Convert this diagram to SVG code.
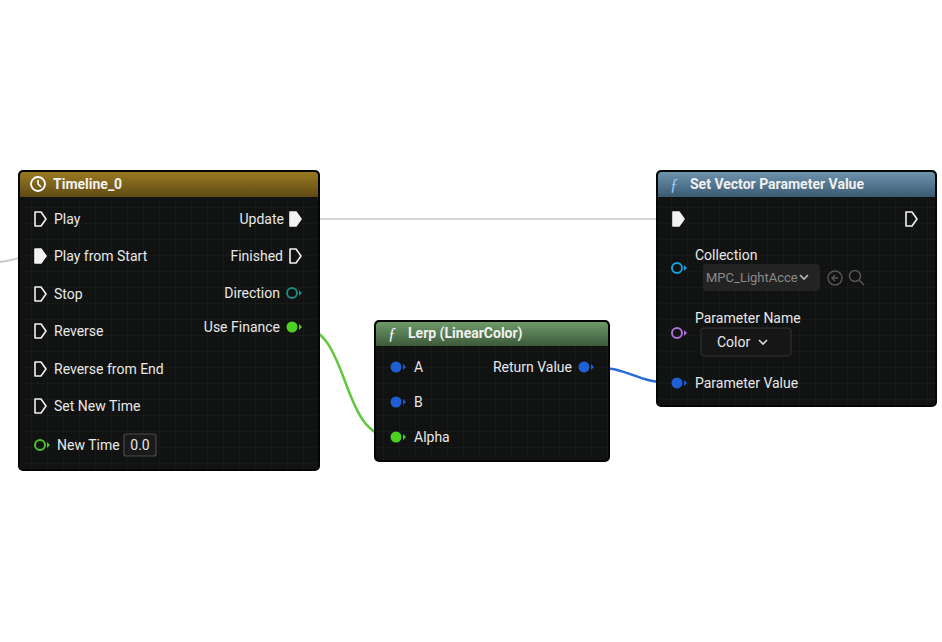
<svg xmlns="http://www.w3.org/2000/svg" width="942" height="642" viewBox="0 0 942 642">
<defs>
<linearGradient id="gT" x1="0" y1="0" x2="0" y2="1"><stop offset="0" stop-color="#9a7a22"/><stop offset="1" stop-color="#5e4a14"/></linearGradient>
<linearGradient id="gL" x1="0" y1="0" x2="0" y2="1"><stop offset="0" stop-color="#6e9a6a"/><stop offset="1" stop-color="#3d5a3a"/></linearGradient>
<linearGradient id="gS" x1="0" y1="0" x2="0" y2="1"><stop offset="0" stop-color="#6e93ad"/><stop offset="1" stop-color="#3b5a72"/></linearGradient>
<pattern id="grid" width="16" height="16" patternUnits="userSpaceOnUse"><rect width="16" height="16" fill="#111312"/><path d="M16 0V16H0" fill="none" stroke="#1c1e1d" stroke-width="1"/></pattern>
</defs>
<style>
.body{fill:url(#grid);stroke:#050505;stroke-width:2}
.t{font-family:"Roboto","Liberation Sans",sans-serif;font-size:14px;fill:#e8e8e8}
.h{font-family:"Roboto","Liberation Sans",sans-serif;font-size:14px;font-weight:bold;fill:#f0f0f0}
.ex{fill:none;stroke:#f2f2f2;stroke-width:1.6;stroke-linejoin:round}
.exf{fill:#f2f2f2;stroke:#f2f2f2;stroke-width:1.6;stroke-linejoin:round}
.box{fill:#1a1a1a;stroke:#4a4a4a;stroke-width:1.2}
</style>
<rect width="942" height="642" fill="#fff"/>
<g id="connectors" fill="none">
<path d="M300 219 H676" stroke="#d8d8d8" stroke-width="2"/>
<path d="M0 262 C15 260 20 257 33 256" stroke="#c8c8c8" stroke-width="2"/>
<path d="M300 327 C350 327 340 437 392 437" stroke="#5ec83a" stroke-width="2.5"/>
<path d="M592 367 C630 367 635 383 674 383" stroke="#2a6ad8" stroke-width="2.5"/>
</g>
<g id="timeline">
<rect class="body" x="19" y="171" width="300" height="299" rx="4"/>
<path d="M20 197V176a4 4 0 0 1 4-4h290a4 4 0 0 1 4 4v21z" fill="url(#gT)"/>
<circle cx="38" cy="184" r="7" fill="none" stroke="#fff" stroke-width="1.8"/><path d="M38 180v4l3 3" stroke="#fff" stroke-width="1.6" fill="none"/>
<text class="h" x="53" y="189">Timeline_0</text>
<g class="t">
<path class="ex" d="M35 212h6l5 7-5 7h-6z"/><text class="t" x="54" y="224">Play</text>
<path class="exf" d="M35 249h6l5 7-5 7h-6z"/><text class="t" x="54" y="261">Play from Start</text>
<path class="ex" d="M35 287h6l5 7-5 7h-6z"/><text class="t" x="54" y="299">Stop</text>
<path class="ex" d="M35 324h6l5 7-5 7h-6z"/><text class="t" x="54" y="336">Reverse</text>
<path class="ex" d="M35 362h6l5 7-5 7h-6z"/><text class="t" x="54" y="374">Reverse from End</text>
<path class="ex" d="M35 399h6l5 7-5 7h-6z"/><text class="t" x="54" y="411">Set New Time</text>
<circle cx="40" cy="445" r="5" fill="none" stroke="#4cc22e" stroke-width="2"/><path d="M47 442l3 3-3 3z" fill="#4cc22e"/>
<text class="t" x="57" y="450">New Time</text>
<rect class="box" x="124" y="434" width="32" height="22" rx="2" stroke="#bbb"/><text class="t" x="140" y="450" text-anchor="middle">0.0</text>
<text class="t" x="284" y="224" text-anchor="end">Update</text><path class="exf" d="M290 212h6l5 7-5 7h-6z"/>
<text class="t" x="283" y="261" text-anchor="end">Finished</text><path class="ex" d="M290 249h6l5 7-5 7h-6z"/>
<text class="t" x="280" y="298" text-anchor="end">Direction</text>
<circle cx="292" cy="293" r="5" fill="none" stroke="#1f8a80" stroke-width="2"/><path d="M299 290l3 3-3 3z" fill="#1f8a80"/>
<text class="t" x="280" y="332" text-anchor="end">Use Finance</text>
<circle cx="292" cy="327" r="5.5" fill="#4cd21e"/><path d="M299 324l3 3-3 3z" fill="#4cd21e"/>
</g>
</g>
<g id="lerp">
<rect class="body" x="375" y="321" width="234" height="140" rx="4"/>
<path d="M376 346V326a4 4 0 0 1 4-4h224a4 4 0 0 1 4 4v20z" fill="url(#gL)"/>
<text x="388" y="339" font-family="Liberation Serif,serif" font-style="italic" font-size="16" fill="#fff">ƒ</text>
<text class="h" x="408" y="338">Lerp (LinearColor)</text>
<circle cx="396" cy="367" r="5.5" fill="#1f5fd6"/><path d="M403 364l3 3-3 3z" fill="#1f5fd6"/><text class="t" x="414" y="372">A</text>
<circle cx="396" cy="402" r="5.5" fill="#1f5fd6"/><path d="M403 399l3 3-3 3z" fill="#1f5fd6"/><text class="t" x="414" y="407">B</text>
<circle cx="396" cy="437" r="5.5" fill="#4cd21e"/><path d="M403 434l3 3-3 3z" fill="#4cd21e"/><text class="t" x="414" y="442">Alpha</text>
<text class="t" x="572" y="372" text-anchor="end">Return Value</text>
<circle cx="584" cy="367" r="5.5" fill="#1f5fd6"/><path d="M591 364l3 3-3 3z" fill="#1f5fd6"/>
</g>
<g id="setvector">
<rect class="body" x="657" y="171" width="279" height="235" rx="4"/>
<path d="M658 197V176a4 4 0 0 1 4-4h269a4 4 0 0 1 4 4v21z" fill="url(#gS)"/>
<text x="670" y="190" font-family="Liberation Serif,serif" font-style="italic" font-size="16" fill="#9fd0ff">ƒ</text>
<text class="h" x="690" y="189">Set Vector Parameter Value</text>
<path class="exf" d="M673 212h6l5 7-5 7h-6z"/>
<path class="ex" d="M906 212h6l5 7-5 7h-6z"/>
<text class="t" x="695" y="260">Collection</text>
<circle cx="677" cy="268" r="5" fill="none" stroke="#1aa0d8" stroke-width="2"/><path d="M684 265l3 3-3 3z" fill="#1aa0d8"/>
<rect x="703" y="264" width="117" height="27" rx="3" fill="#232323"/>
<text x="706" y="282" font-family="Roboto,Liberation Sans,sans-serif" font-size="13" fill="#8a8a8a">MPC_LightAcce</text>
<path d="M800 275l4 4 4-4" fill="none" stroke="#bbb" stroke-width="1.6"/>
<circle cx="835" cy="278" r="7" fill="none" stroke="#555" stroke-width="1.5"/><path d="M838 278h-6m3-3-3 3 3 3" fill="none" stroke="#555" stroke-width="1.4"/>
<circle cx="855" cy="276" r="5.5" fill="none" stroke="#555" stroke-width="1.5"/><path d="M859 280l5 5" stroke="#555" stroke-width="1.6"/>
<text class="t" x="695" y="323">Parameter Name</text>
<circle cx="677" cy="333" r="5" fill="none" stroke="#b070d8" stroke-width="2"/><path d="M684 330l3 3-3 3z" fill="#b070d8"/>
<rect x="701" y="328" width="90" height="28" rx="3" fill="#161616" stroke="#333"/>
<text class="t" x="717" y="347">Color</text>
<path d="M759 340l4 4 4-4" fill="none" stroke="#ddd" stroke-width="1.6"/>
<circle cx="677" cy="383" r="5.5" fill="#1f5fd6"/><path d="M684 380l3 3-3 3z" fill="#1f5fd6"/>
<text class="t" x="695" y="388">Parameter Value</text>
</g>
</svg>
